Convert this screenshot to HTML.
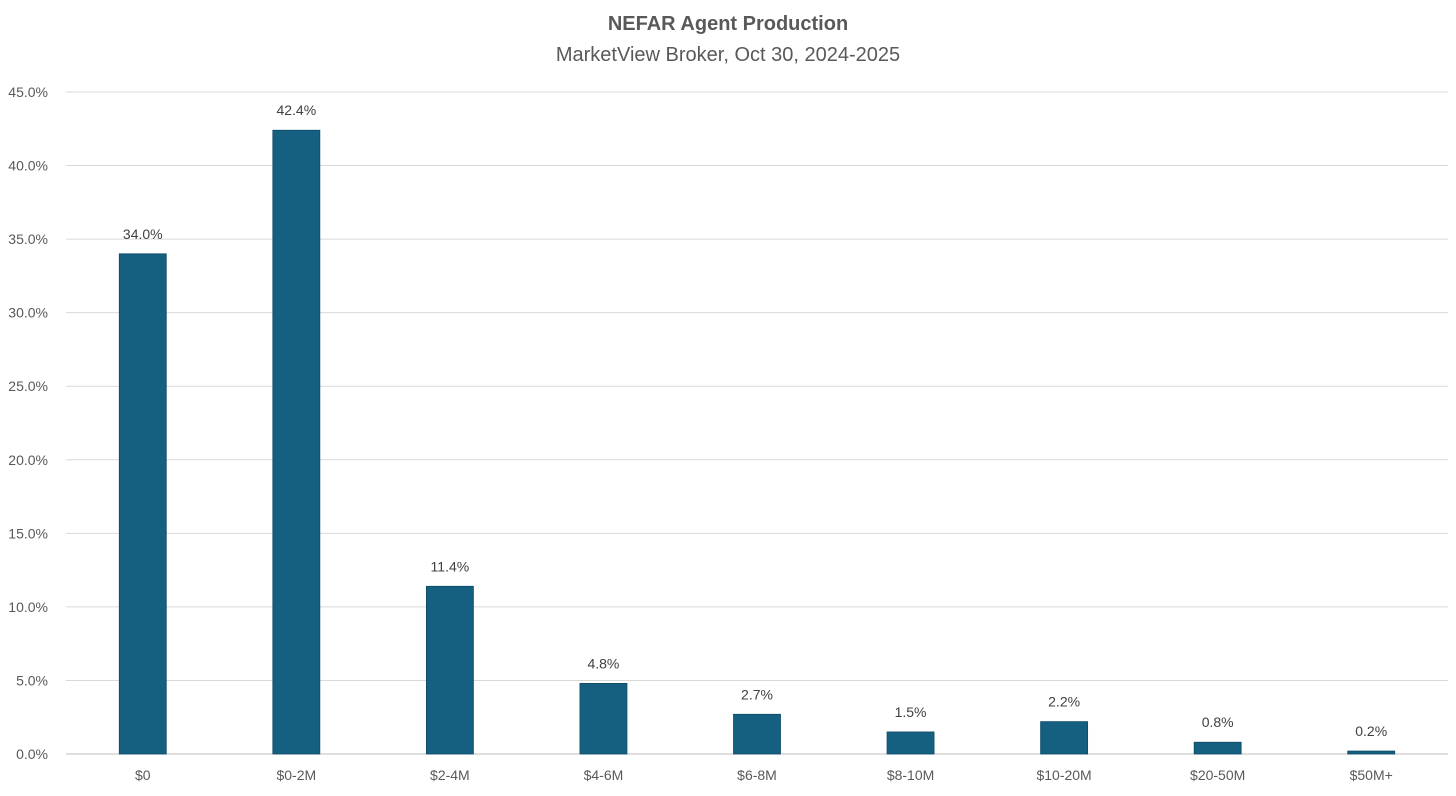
<!DOCTYPE html>
<html><head><meta charset="utf-8">
<style>
body{margin:0;background:#fff;width:1456px;height:791px;overflow:hidden;font-family:"Liberation Sans",Arial,sans-serif}
svg text{font-family:"Liberation Sans",Arial,sans-serif}
</style></head>
<body>
<svg id="chart" width="1456" height="791">
<text x="728" y="30" text-anchor="middle" font-size="20" font-weight="bold" fill="#595959">NEFAR Agent Production</text>
<text x="728" y="61" text-anchor="middle" font-size="20" fill="#595959">MarketView Broker, Oct 30, 2024-2025</text>
<g id="grid"></g><g id="bars"></g><g id="labels"></g>
</svg>
<script>
const categories=["$0","$0-2M","$2-4M","$4-6M","$6-8M","$8-10M","$10-20M","$20-50M","$50M+"];
const values=[34.0,42.4,11.4,4.8,2.7,1.5,2.2,0.8,0.2];
const ticks=[0,5,10,15,20,25,30,35,40,45];
const ns="http://www.w3.org/2000/svg";
const x0=66,x1=1448,y0=754,y1=92,maxV=45;
const band=(x1-x0)/categories.length,bw=47;
const y=v=>y0-(v/maxV)*(y0-y1);
const xc=i=>x0+band*(i+0.5);
function mk(t,a,p){const e=document.createElementNS(ns,t);for(const k in a)e.setAttribute(k,a[k]);p.appendChild(e);return e;}
const grid=document.getElementById('grid'),bars=document.getElementById('bars'),labels=document.getElementById('labels');
ticks.forEach(t=>{
 const l=mk('line',{x1:x0,x2:x1,y1:y(t),y2:y(t),stroke:t===0?'#bfbfbf':'#d9d9d9','stroke-width':1},grid);
 
 
 const tx=mk('text',{x:48,y:y(t)+5,'text-anchor':'end','font-size':14,fill:'#595959'},grid);
 tx.textContent=t.toFixed(1)+'%';
 
 
});
categories.forEach((c,i)=>{
 const v=values[i];
 const r=mk('rect',{x:xc(i)-bw/2,y:y(v),width:bw,height:y0-y(v),fill:'#155f80',stroke:'#0e4a66','stroke-width':0.8},bars);
 
 
 const vl=mk('text',{x:xc(i),y:y(v)-15,'text-anchor':'middle','font-size':14,fill:'#404040'},labels);
 vl.textContent=v.toFixed(1)+'%';
 
 
 const xl=mk('text',{x:xc(i),y:780,'text-anchor':'middle','font-size':14,fill:'#595959'},labels);
 xl.textContent=c;
 
 
});
</script>
</body></html>
